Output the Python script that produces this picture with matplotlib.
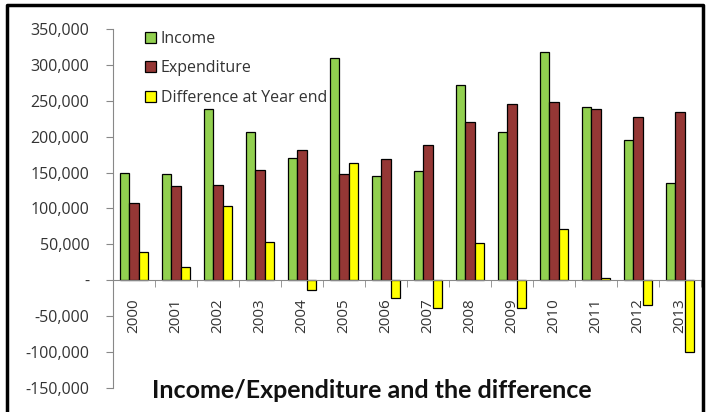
import numpy as np
import matplotlib
matplotlib.use("Agg")
import matplotlib.pyplot as plt
from matplotlib.patches import Patch
from matplotlib.lines import Line2D
from matplotlib.ticker import FuncFormatter, FixedLocator

# Datos
years = ['2000', '2001', '2002', '2003', '2004', '2005', '2006',
         '2007', '2008', '2009', '2010', '2011', '2012', '2013']
income = [150000, 148000, 238000, 206000, 170000, 310000, 145000,
          152000, 272000, 206000, 318000, 241000, 195000, 135000]
expenditure = [108000, 131000, 133000, 153000, 181000, 148000, 169000,
               189000, 220000, 245000, 248000, 238000, 227000, 234000]
difference = [40000, 18000, 104000, 53000, -14000, 163000, -24000,
              -38000, 52000, -39000, 71000, 3000, -34000, -100000]

c_inc = '#92D050'
c_exp = '#953735'
c_dif = '#FFFF00'

plt.rcParams['font.family'] = ['Open Sans', 'DejaVu Sans']

fig = plt.figure(figsize=(7.06, 4.12), dpi=100)
ax = fig.add_axes([0.160, 0.0583, 0.833, 0.8713])

x = np.arange(len(years))
w = 0.226
ax.bar(x - w, income, w, color=c_inc, edgecolor='black', linewidth=0.9, zorder=2)
ax.bar(x, expenditure, w, color=c_exp, edgecolor='black', linewidth=0.9, zorder=2)
ax.bar(x + w, difference, w, color=c_dif, edgecolor='black', linewidth=0.9, zorder=2)

ax.set_xlim(-0.5, len(years) - 0.5)
ax.set_ylim(-150000, 350000)

# Ejes
for s in ['top', 'right']:
    ax.spines[s].set_visible(False)
ax.spines['bottom'].set_position(('data', 0))
ax.spines['bottom'].set_color('#888888')
ax.spines['left'].set_color('#888888')

ax.set_yticks(np.arange(-150000, 350001, 50000))
ax.yaxis.set_major_formatter(FuncFormatter(lambda v, p: '-' if v == 0 else f'{int(v):,}'))
ax.tick_params(axis='y', length=5, color='#888888', labelsize=11.5, labelcolor='#333333', pad=12)

ax.set_xticks(x)
ax.set_xticklabels(years, rotation=90)
ax.xaxis.set_minor_locator(FixedLocator(np.arange(-0.5, len(years), 1)))
ax.tick_params(axis='x', which='major', length=0, labelsize=11, labelcolor='#333333', pad=13)
ax.tick_params(axis='x', which='minor', length=5, color='#888888')

# Leyenda
handles = [Patch(facecolor=c_inc, edgecolor='black', linewidth=0.9),
           Patch(facecolor=c_exp, edgecolor='black', linewidth=0.9),
           Patch(facecolor=c_dif, edgecolor='black', linewidth=0.9)]
leg = ax.legend(handles, ['Income', 'Expenditure', 'Difference at Year end'],
                loc='upper left', bbox_to_anchor=(0.03, 1.035), frameon=False,
                fontsize=11.5, handlelength=0.7, handleheight=0.7,
                handletextpad=0.3, labelspacing=0.85)
for t in leg.get_texts():
    t.set_color('#333333')

fig.text(0.527, 0.053, 'Income/Expenditure and the difference',
         ha='center', va='center', fontsize=18, fontweight='bold',
         family=['Lato', 'DejaVu Sans'], color='#111111')

# Marco exterior (sin borde inferior)
fig.add_artist(Line2D([6.5 / 706, 6.5 / 706, 703 / 706, 703 / 706],
                      [0, 1 - 5 / 412, 1 - 5 / 412, 0],
                      transform=fig.transFigure, color='black', linewidth=2.5))

plt.savefig("out.png", dpi=100)
